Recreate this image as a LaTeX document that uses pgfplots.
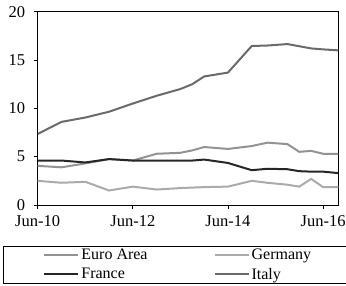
\documentclass[border=0pt]{standalone}
\usepackage{fontspec}
\setmainfont{Liberation Serif}
\usepackage{pgfplots}
\pgfplotsset{compat=1.18}
\definecolor{cItaly}{HTML}{6A6A6A}
\definecolor{cEuro}{HTML}{939393}
\definecolor{cGer}{HTML}{ABABAB}
\definecolor{cFra}{HTML}{262626}
\begin{document}
\begin{tikzpicture}
\begin{axis}[
  at={(0,0)}, anchor=south west,
  scale only axis, width=300.6pt, height=193.3pt,
  xmin=2010.5, xmax=2016.82, ymin=0, ymax=20,
  xtick={2010.5,2012.5,2014.5,2016.5},
  xticklabels={Jun-10,Jun-12,Jun-14,Jun-16},
  ytick={0,5,10,15,20},
  tick align=outside, tick pos=left,
  major tick length=4pt,
  axis line style={line width=0.9pt},
  every tick/.style={black, line width=0.9pt},
  tick label style={font=\fontsize{16.5}{18}\selectfont},
  /pgf/number format/assume math mode=true,
  yticklabel style={xshift=-5pt},
  xticklabel style={yshift=-3pt},
  legend columns=2,
  legend style={at={(-0.1154,-0.210)}, anchor=north west, draw=black, line width=0.8pt,
    font=\fontsize{16}{18}\selectfont, inner xsep=40pt, inner ysep=1pt,
    /tikz/every even column/.append style={column sep=64pt}, row sep=3pt},
  legend cell align=left,
  legend image code/.code={\draw[#1,line width=2pt] (0pt,0pt) -- (34pt,0pt);},
]
\addplot[cEuro, line width=2pt] coordinates {
(2010.5,4.05) (2011.0,3.9) (2011.5,4.3) (2012.0,4.75) (2012.5,4.6) (2013.0,5.3) (2013.5,5.4) (2013.75,5.65)
(2014.0,6.0) (2014.5,5.8) (2015.0,6.1) (2015.33,6.45) (2015.75,6.3) (2016.0,5.5) (2016.25,5.6) (2016.5,5.3) (2016.82,5.3)};
\addlegendentry{Euro Area}
\addplot[cGer, line width=2pt] coordinates {
(2010.5,2.5) (2011.0,2.3) (2011.5,2.4) (2012.0,1.5) (2012.5,1.9) (2013.0,1.6) (2013.5,1.75) (2013.75,1.8)
(2014.0,1.85) (2014.5,1.9) (2015.0,2.5) (2015.33,2.3) (2015.75,2.1) (2016.0,1.9) (2016.25,2.7) (2016.5,1.85) (2016.82,1.85)};
\addlegendentry{Germany}
\addplot[cFra, line width=2pt] coordinates {
(2010.5,4.6) (2011.0,4.6) (2011.5,4.4) (2012.0,4.75) (2012.5,4.6) (2013.0,4.6) (2013.5,4.6) (2013.75,4.6)
(2014.0,4.7) (2014.5,4.35) (2015.0,3.6) (2015.33,3.75) (2015.75,3.7) (2016.0,3.5) (2016.25,3.45) (2016.5,3.45) (2016.82,3.3)};
\addlegendentry{France}
\addplot[cItaly, line width=2pt] coordinates {
(2010.5,7.35) (2011.0,8.6) (2011.5,9.05) (2012.0,9.65) (2012.5,10.5) (2013.0,11.3) (2013.5,12.0) (2013.75,12.5)
(2014.0,13.3) (2014.5,13.7) (2015.0,16.45) (2015.33,16.5) (2015.75,16.65) (2016.25,16.2) (2016.5,16.1) (2016.82,16.0)};
\addlegendentry{Italy}
\end{axis}
\pgfresetboundingbox
\useasboundingbox (-37.7pt,-81pt) rectangle (308.3pt,205pt);
\end{tikzpicture}
\end{document}
